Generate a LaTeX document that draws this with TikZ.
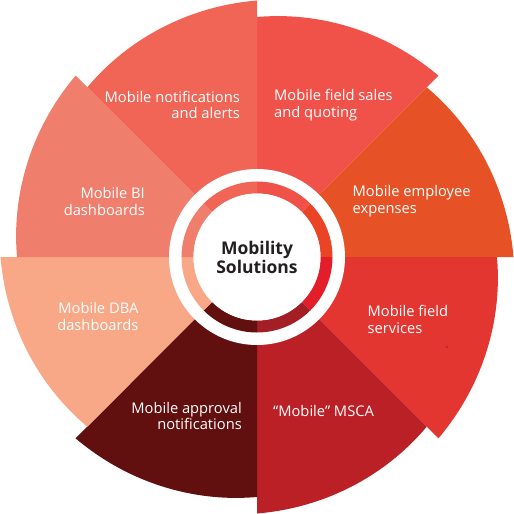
\documentclass[tikz,border=0pt]{standalone}
\usepackage{fontspec}
\setmainfont{Open Sans}

\definecolor{salescol}{HTML}{F0524A}
\definecolor{expensecol}{HTML}{E65226}
\definecolor{servicecol}{HTML}{E43631}
\definecolor{mscacol}{HTML}{BA2026}
\definecolor{approvalcol}{HTML}{620F10}
\definecolor{dbacol}{HTML}{F8A886}
\definecolor{bicol}{HTML}{F07E6C}
\definecolor{alertcol}{HTML}{F06556}
\definecolor{expensering}{HTML}{EA4325}
\definecolor{servicering}{HTML}{E31E2A}
\definecolor{mscaring}{HTML}{A41F25}
\definecolor{hubtext}{HTML}{231F20}
\definecolor{speck}{HTML}{B02A2A}

\tikzset{
  petal label/.style={text=white, inner sep=0pt, font=\fontsize{14.7}{16.8}\selectfont},
  hub/.style={circle, fill=white, inner sep=0pt, minimum size=127pt, align=center,
    text=hubtext, font=\fontsize{17.5}{21}\selectfont\bfseries}
}

\begin{document}
\begin{tikzpicture}[x=1pt, y=1pt]
    \useasboundingbox (-257,-257) rectangle (257,257);

    % Petals
    \foreach \a/\col in {45/salescol, 0/expensecol, -45/servicecol, -90/mscacol,
                         -135/approvalcol, -180/dbacol, 135/bicol, 90/alertcol}
      \fill [\col] (0,0) -- plot [domain={\a}:{\a+45}, samples=40]
        (\x:{256.5-16.5*(\x-(\a))/45}) -- cycle;
    \fill [speck] (190,-90) circle [radius=1.4];

    % Ring
    \fill [white] (0,0) circle [radius=88];
    \foreach \a/\col in {45/salescol, 0/expensering, -45/servicering, -90/mscaring,
                         -135/approvalcol, -180/dbacol, 135/bicol, 90/alertcol}
      \fill [\col] (\a:75.5) arc [start angle=\a, end angle=\a+45, radius=75.5]
        -- ({\a+45}:63.5) arc [start angle=\a+45, end angle=\a, radius=63.5] -- cycle;

    % Nodes
    \node [hub] (mobility) at (0,0) {Mobility\\[-2pt]Solutions};
    \node [petal label, anchor=west, align=left] (sales) at (17,152) {Mobile field sales\\and quoting};
    \node [petal label, anchor=west, align=left] (expenses) at (95.5,55.5) {Mobile employee\\expenses};
    \node [petal label, anchor=west, align=left] (services) at (110.5,-62.5) {Mobile field\\services};
    \node [petal label, anchor=west, align=left] (msca) at (16,-154) {“Mobile” MSCA};
    \node [petal label, anchor=east, align=right] (approval) at (-15,-159) {Mobile approval\\notifications};
    \node [petal label, anchor=east, align=right] (dba) at (-118.5,-59.5) {Mobile DBA\\dashboards};
    \node [petal label, anchor=east, align=right] (bi) at (-112,55.5) {Mobile BI\\dashboards};
    \node [petal label, anchor=east, align=right] (alerts) at (-17,152) {Mobile notifications\\and alerts};
  \end{tikzpicture}
\end{document}
